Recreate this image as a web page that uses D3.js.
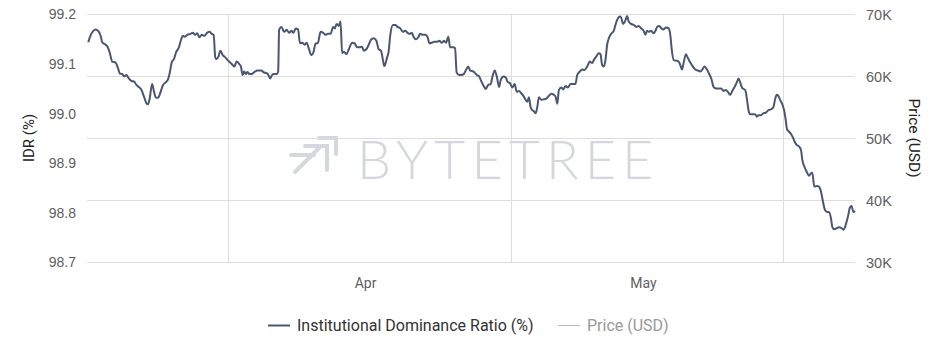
<!DOCTYPE html>
<html>
<head>
<meta charset="utf-8">
<script src="https://cdn.jsdelivr.net/npm/d3@7"></script>
<style>
  html, body { margin: 0; padding: 0; background: #ffffff; }
  svg { display: block; }
</style>
</head>
<body>
<svg id="chart" width="943" height="360"></svg>
<script>
// ---------- DATA ----------
const startDate = "2021-03-17T02:30:00Z";
// day offsets of each observation from startDate
const dayOffset = [
0.03,0.21,0.56,0.81,1.16,1.37,1.51,1.80,2.08,2.32,
2.57,2.92,3.20,3.38,3.63,3.84,4.08,4.33,4.61,4.89,
5.14,5.39,5.67,5.95,6.20,6.37,6.55,6.80,7.01,7.18,
7.43,7.71,7.96,8.24,8.49,8.66,8.91,9.12,9.37,9.61,
9.89,10.07,10.25,10.53,10.88,11.13,11.37,11.58,11.83,12.08,
12.36,12.64,12.89,13.13,13.34,13.49,13.59,13.84,14.05,14.30,
14.54,14.82,15.11,15.35,15.53,15.77,16.06,16.23,16.41,16.58,
16.76,16.94,17.11,17.36,17.64,17.99,18.35,18.70,19.05,19.33,
19.47,19.68,20.04,20.18,
20.28,20.53,20.81,21.09,21.34,21.58,21.80,22.04,22.29,22.50,
22.75,22.99,23.20,23.45,23.70,23.91,24.15,24.40,24.68,24.96,
25.21,25.46,25.74,26.02,26.19,26.37,26.61,26.79,26.97,27.15,
27.43,27.68,28.03,28.28,28.56,28.84,29.09,29.26,29.54,29.79,
30.03,30.32,30.60,30.84,31.09,31.30,31.44,31.72,31.90,32.08,
32.36,32.61,32.85,33.14,33.42,33.66,33.91,34.12,34.37,34.54,
34.82,35.07,35.25,35.53,35.77,36.02,36.23,36.48,36.72,37.01,
37.29,37.54,37.78,37.99,38.24,38.42,38.77,38.95,39.12,39.40,
39.82,40.11,40.35,
40.56,40.91,41.26,41.51,41.75,42.04,42.21,42.46,42.74,42.92,
43.16,43.38,43.62,43.80,44.08,44.33,44.50,44.79,45.03,45.28,
45.49,45.74,45.98,46.20,46.44,46.62,46.79,46.97,47.15,47.32,
47.50,47.68,47.85,48.10,48.38,48.67,48.91,49.16,49.44,49.62,
49.80,49.97,50.22,50.43,50.68,50.92,51.21,51.73,51.91,52.19,
52.44,52.68,52.97,53.25,53.50,53.67,53.96,54.20,54.38,54.56,
54.73,54.91,55.09,55.27,55.51,55.79,55.97,56.15,56.43,56.57,
56.78,57.03,57.20,57.38,57.63,57.91,58.20,58.44,58.69,58.97,
59.15,59.32,59.50,59.75,60.03,60.21,60.38,
60.63,60.84,61.09,61.33,61.62,61.79,61.97,62.15,62.39,62.68,
62.85,63.03,63.20,63.45,63.66,63.91,64.16,64.44,64.72,64.97,
65.15,65.43,65.68,65.92,66.14,66.38,66.63,66.91,67.19,67.44,
67.69,67.90,68.15,68.32,68.61,68.85,69.03,69.21,69.45,69.74,
69.91,70.09,70.27,70.51,70.79,70.97,71.15,71.43,71.67,71.92,
72.20,72.49,72.73,72.91,73.09,73.26,73.44,73.69,73.90,74.04,
74.18,74.39,74.60,74.85,75.03,75.20,75.45,75.66,75.80,76.02,
76.26,76.51,76.72,76.86,77.07,77.32,77.57,77.78,77.96,78.20,
78.45,78.63,78.84,78.98,79.19,79.44,79.69,79.97,80.15,80.32,
80.50,80.68,80.85,81.03,81.21,81.39
];
// Institutional Dominance Ratio (%)
const idr = [
99.143,99.154,99.166,99.169,99.164,99.154,99.143,99.139,99.134,99.121,
99.104,99.102,99.090,99.080,99.079,99.074,99.077,99.070,99.065,99.064,
99.057,99.053,99.047,99.033,99.020,99.018,99.030,99.059,99.043,99.032,
99.031,99.043,99.057,99.062,99.068,99.080,99.104,99.109,99.124,99.131,
99.149,99.156,99.154,99.158,99.160,99.162,99.158,99.161,99.153,99.158,
99.156,99.162,99.164,99.160,99.158,99.114,99.109,99.114,99.126,99.117,
99.113,99.107,99.102,99.097,99.094,99.104,99.099,99.094,99.077,99.084,
99.079,99.083,99.079,99.079,99.083,99.086,99.086,99.082,99.080,99.070,
99.075,99.079,99.079,99.084,
99.168,99.174,99.164,99.168,99.162,99.166,99.162,99.171,99.169,99.141,
99.142,99.138,99.142,99.129,99.117,99.122,99.140,99.142,99.164,99.162,
99.158,99.160,99.160,99.174,99.171,99.180,99.176,99.185,99.121,99.124,
99.119,99.129,99.142,99.141,99.133,99.133,99.134,99.126,99.129,99.138,
99.148,99.151,99.146,99.129,99.126,99.107,99.095,99.111,99.124,99.158,
99.178,99.178,99.174,99.171,99.164,99.166,99.162,99.160,99.162,99.154,
99.149,99.154,99.160,99.158,99.158,99.154,99.141,99.142,99.144,99.144,
99.146,99.142,99.146,99.142,99.154,99.133,99.133,99.131,99.082,99.077,
99.078,99.087,99.094,
99.086,99.084,99.077,99.074,99.064,99.053,99.049,99.057,99.059,99.074,
99.086,99.074,99.053,99.067,99.074,99.072,99.064,99.060,99.052,99.059,
99.043,99.045,99.040,99.035,99.027,99.023,99.032,99.012,99.006,99.004,
99.000,99.013,99.032,99.027,99.028,99.030,99.035,99.039,99.037,99.033,
99.019,99.047,99.052,99.048,99.055,99.052,99.059,99.059,99.077,99.084,
99.088,99.087,99.094,99.104,99.101,99.107,99.115,99.121,99.119,99.097,
99.094,99.107,99.138,99.151,99.160,99.166,99.178,99.188,99.195,99.193,
99.180,99.187,99.196,99.185,99.180,99.178,99.174,99.176,99.171,99.166,
99.158,99.166,99.164,99.166,99.161,99.166,99.174,
99.176,99.171,99.169,99.173,99.171,99.158,99.124,99.107,99.106,99.104,
99.097,99.088,99.101,99.119,99.111,99.102,99.095,99.088,99.086,99.084,
99.087,99.094,99.088,99.079,99.070,99.053,99.050,99.050,99.050,99.045,
99.047,99.043,99.037,99.043,99.053,99.062,99.070,99.062,99.050,99.047,
99.030,99.006,98.998,98.998,98.998,98.993,98.996,98.996,99.000,99.001,
99.006,99.008,99.012,99.028,99.037,99.035,99.027,99.017,99.003,98.986,
98.967,98.963,98.958,98.949,98.941,98.936,98.933,98.926,98.906,98.892,
98.882,98.874,98.879,98.880,98.852,98.853,98.852,98.842,98.825,98.805,
98.801,98.801,98.788,98.771,98.766,98.768,98.770,98.768,98.765,98.770,
98.781,98.795,98.810,98.813,98.801,98.803
];
const idrTicks = [98.7, 98.8, 98.9, 99.0, 99.1, 99.2];
const priceTicks = [30000, 40000, 50000, 60000, 70000];
const priceDomain = [30000, 70000];
const gridDates = ["2021-04-01T00:00:00Z", "2021-05-01T00:00:00Z", "2021-05-29T20:00:00Z"];
const monthLabelDates = ["2021-04-15T12:00:00Z", "2021-05-15T00:00:00Z"];
const seriesNames = ["Institutional Dominance Ratio (%)", "Price (USD)"];
const axisTitles = ["IDR (%)", "Price (USD)"];
const watermark = "BYTETREE";

// ---------- SETUP ----------
const svg = d3.select("#chart");
const plot = { left: 88, right: 855, top: 14, bottom: 262 };
const lineColor = "#4a5672";
const gridColor = "#dddddd";
const tickColor = "#606060";
const FONT = "Roboto, 'Liberation Sans', Arial, sans-serif";
const TICKFONT = "'Liberation Sans', Arial, sans-serif";

const t0 = new Date(startDate).getTime();
const DAY = 86400000;
const points = d3.zip(dayOffset, idr).map(([d, v]) => ({ date: new Date(t0 + d * DAY), v }));

const x = d3.scaleUtc()
  .domain([new Date(t0), d3.max(points, p => p.date)])
  .range([plot.left, plot.right]);
const yL = d3.scaleLinear().domain([98.7, 99.2]).range([plot.bottom, plot.top]);
const yR = d3.scaleLinear().domain(priceDomain).range([plot.bottom, plot.top]);

// ---------- WATERMARK ----------
const wm = svg.append("g").attr("class", "watermark");
wm.append("text")
  .attr("x", 357).attr("y", 179)
  .attr("font-family", "Lato, 'Open Sans', sans-serif")
  .attr("font-weight", 300)
  .attr("font-size", 54)
  .attr("letter-spacing", 6)
  .attr("fill", "#d4d7dd")
  .text(watermark);
// logo (arrows)
const logo = wm.append("g").attr("stroke", "#d4d7dd").attr("stroke-width", 4)
  .attr("fill", "none").attr("stroke-linecap", "round");
logo.append("path").attr("d", "M319,138 L336,138 L336,154");
logo.append("path").attr("d", "M305,146 L327,146 L327,170");
logo.append("path").attr("d", "M291,155 L314,155");
logo.append("path").attr("d", "M295,172 L321,146");

// ---------- GRID ----------
const grid = svg.append("g").attr("class", "grid");
grid.selectAll("line.h").data(priceTicks).join("line")
  .attr("class", "h")
  .attr("x1", plot.left - 1).attr("x2", plot.right)
  .attr("y1", d => Math.round(yR(d)) + 0.5).attr("y2", d => Math.round(yR(d)) + 0.5)
  .attr("stroke", gridColor).attr("stroke-width", 1);
grid.selectAll("line.v").data(gridDates.map(d => new Date(d))).join("line")
  .attr("class", "v")
  .attr("x1", d => Math.round(x(d)) + 0.5).attr("x2", d => Math.round(x(d)) + 0.5)
  .attr("y1", plot.top).attr("y2", plot.bottom)
  .attr("stroke", gridColor).attr("stroke-width", 1);

// ---------- AXES ----------
const leftAxis = svg.append("g")
  .attr("transform", `translate(${plot.left - 12},0)`)
  .call(d3.axisLeft(yL).tickValues(idrTicks).tickSize(0).tickPadding(0).tickFormat(d3.format(".1f")));
leftAxis.select(".domain").remove();
leftAxis.selectAll("text").attr("font-family", TICKFONT).attr("font-size", 14).attr("fill", tickColor)
  .attr("dy", "0.35em");

const rightAxis = svg.append("g")
  .attr("transform", `translate(${plot.right + 11},0)`)
  .call(d3.axisRight(yR).tickValues(priceTicks).tickSize(0).tickPadding(0)
    .tickFormat(d => (d / 1000) + "K"));
rightAxis.select(".domain").remove();
rightAxis.selectAll("text").attr("font-family", TICKFONT).attr("font-size", 14.5).attr("fill", tickColor)
  .attr("dy", "0.35em");

const bottomAxis = svg.append("g")
  .attr("transform", `translate(0,${plot.bottom})`)
  .call(d3.axisBottom(x).tickValues(monthLabelDates.map(d => new Date(d)))
    .tickSize(0).tickPadding(16).tickFormat(d3.utcFormat("%b")));
bottomAxis.select(".domain").remove();
bottomAxis.selectAll("text").attr("font-family", FONT).attr("font-size", 14).attr("fill", tickColor);

// axis titles
svg.append("text")
  .attr("transform", `translate(34,${(plot.top + plot.bottom) / 2}) rotate(-90)`)
  .attr("text-anchor", "middle")
  .attr("font-family", FONT).attr("font-size", 15).attr("fill", "#222222")
  .text(axisTitles[0]);
svg.append("text")
  .attr("transform", `translate(909,${(plot.top + plot.bottom) / 2}) rotate(90)`)
  .attr("text-anchor", "middle")
  .attr("font-family", FONT).attr("font-size", 15.5).attr("fill", "#222222")
  .text(axisTitles[1]);

// ---------- LINE ----------
const line = d3.line().x(p => x(p.date)).y(p => yL(p.v)).curve(d3.curveMonotoneX);
svg.append("path")
  .datum(points)
  .attr("fill", "none")
  .attr("stroke", lineColor)
  .attr("stroke-width", 2)
  .attr("stroke-linejoin", "round")
  .attr("d", line);

// ---------- LEGEND ----------
const legend = svg.append("g").attr("font-family", FONT).attr("font-size", 16);
const items = [
  { name: seriesNames[0], color: lineColor, text: "#333333", x: 268, w: 2 },
  { name: seriesNames[1], color: "#bbbbbb", text: "#999999", x: 558, w: 1 }
];
items.forEach(it => {
  legend.append("line")
    .attr("x1", it.x).attr("x2", it.x + 22)
    .attr("y1", 325.5).attr("y2", 325.5)
    .attr("stroke", it.color).attr("stroke-width", it.w);
  legend.append("text")
    .attr("x", it.x + 29).attr("y", 331)
    .attr("fill", it.text)
    .text(it.name);
});
</script>
</body>
</html>
